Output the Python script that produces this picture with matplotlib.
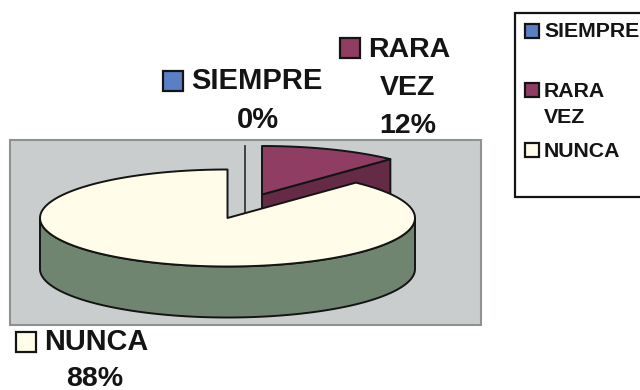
import numpy as np
import matplotlib
matplotlib.use("Agg")
import matplotlib.pyplot as plt
from matplotlib.patches import Polygon, Rectangle

plt.rcParams['font.family'] = ['Liberation Sans', 'DejaVu Sans']

categories = ["SIEMPRE", "RARA\nVEZ", "NUNCA"]
shares = [0, 12, 88]
share_labels = ["0%", "12%", "88%"]

top_colors = ["#5b7fc4", "#8f3d63", "#fffde9"]
wall_colors = ["#46608f", "#652a45", "#6f8570"]
bg_color = "#c9cdcd"
ink = "#141414"

# pie geometry in pixels (the axes are the whole figure)
cx, cy = 227.5, 218
rx, ry = 187.5, 48.5
depth = 51
offsets = [(17.5, -24), (34.5, -23.5), (0, 0)]


def rim(a0, a1, ox=0, oy=0, dz=0):
    # a0, a1 in degrees, measured ellipse-wise, y axis points down
    t = np.deg2rad(np.linspace(a0, a1, 200))
    return np.column_stack([cx + ox + rx*np.cos(t), cy + oy + dz - ry*np.sin(t)])


fig, ax = plt.subplots(figsize=(6.4, 3.9), dpi=100)
ax.set_position([0, 0, 1, 1])
ax.set_xlim(0, 640)
ax.set_ylim(390, 0)
ax.axis("off")

# plot area
ax.add_patch(Rectangle((10, 140), 471, 185, fc=bg_color, ec="#8d9392", lw=1.5, zorder=1))

# slices start at 12 o'clock and go clockwise
angles = 90 - np.cumsum([0] + shares) * 3.6
for i in range(len(shares)):
    a0, a1 = angles[i], angles[i+1]
    ox, oy = offsets[i]
    apex = np.array([cx + ox, cy + oy])
    z = 2 + i
    if shares[i] == 0:
        # empty slice, only shows as a line
        top = rim(a0, a0, ox, oy)[0]
        ax.plot([top[0], apex[0]], [top[1], apex[1] + depth], color="#33393a", lw=1.3, zorder=z)
        continue
    pts = rim(a0, a1, ox, oy)
    if a1 < -90:
        # big slice: outer wall along the front half
        front = rim(0, -180, ox, oy)
        wall = np.vstack([front, rim(-180, 0, ox, oy, depth)])
    else:
        # small slice: flat cut wall
        tip = pts[-1]
        wall = np.array([apex, tip, tip + [0, depth], apex + [0, depth]])
    ax.add_patch(Polygon(wall, fc=wall_colors[i], ec=ink, lw=1.4, joinstyle="round", zorder=z))
    ax.add_patch(Polygon(np.vstack([apex, pts]), fc=top_colors[i], ec=ink, lw=1.4, joinstyle="round", zorder=z))

txt = dict(fontweight="bold", color=ink, zorder=10)


def swatch(x, y, s, color, lw=1.6):
    ax.add_patch(Rectangle((x, y), s, s, fc=color, ec=ink, lw=lw, zorder=10))


# data labels
swatch(162.5, 70.5, 20, top_colors[0])
ax.text(191, 89, categories[0], fontsize=21, ha="left", va="baseline", **txt)
ax.text(258, 128, share_labels[0], fontsize=21, ha="center", va="baseline", **txt)

swatch(339.5, 37.5, 20, top_colors[1])
first, second = categories[1].split("\n")
ax.text(368, 57, first, fontsize=20.5, ha="left", va="baseline", **txt)
ax.text(408, 95, second, fontsize=20.5, ha="center", va="baseline", **txt)
ax.text(408, 133, share_labels[1], fontsize=20.5, ha="center", va="baseline", **txt)

swatch(15.5, 331.5, 20, top_colors[2])
ax.text(44, 350.5, categories[2], fontsize=20.8, ha="left", va="baseline", **txt)
ax.text(95, 385.5, share_labels[2], fontsize=20.5, ha="center", va="baseline", **txt)

# legend box, runs off the right edge
ax.add_patch(Rectangle((515, 13), 140, 184, fc="white", ec=ink, lw=1.6, zorder=9))
swatch(524.5, 23.5, 14, top_colors[0])
ax.text(544, 37, categories[0], fontsize=15.3, ha="left", va="baseline", **txt)
swatch(524.5, 82.5, 14, top_colors[1])
ax.text(544, 97, first, fontsize=15.3, ha="left", va="baseline", **txt)
ax.text(544, 123, second, fontsize=15.3, ha="left", va="baseline", **txt)
swatch(524.5, 142.5, 14, top_colors[2])
ax.text(544, 157, categories[2], fontsize=15.3, ha="left", va="baseline", **txt)

fig.savefig("out.png", dpi=100)
